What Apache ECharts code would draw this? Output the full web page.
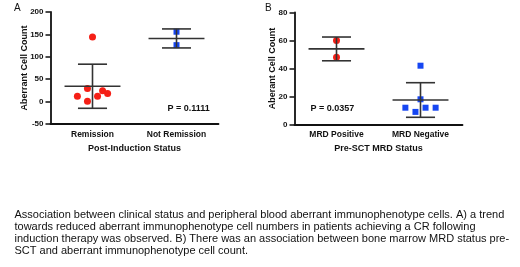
<!DOCTYPE html>
<html>
<head>
<meta charset="utf-8">
<script src="https://cdn.jsdelivr.net/npm/echarts@6/dist/echarts.min.js"></script>
<style>
  html, body { margin: 0; padding: 0; background: #fff; }
  #chart { width: 520px; height: 267px; }
</style>
</head>
<body>
<div id="chart"></div>
<script>
// Panel A
const catsA = ["Remission", "Not Remission"];
const remission = [144, 29, 24, 18, 12, 12, 1];
const remissionJitter = [0, -0.06, 0.12, 0.18, -0.18, 0.06, -0.06];
const notRemission = [156, 126];
const notRemissionJitter = [0, 0];
const ticksA = { min: -50, max: 200, interval: 50 };

// Panel B
const catsB = ["MRD Positive", "MRD Negative"];
const mrdPos = [60, 48];
const mrdPosJitter = [0, 0];
const mrdNeg = [42, 18, 12, 9, 12, 12];
const mrdNegJitter = [0, 0, -0.18, -0.06, 0.06, 0.18];
const ticksB = { min: 0, max: 80, interval: 20 };

const caption = [
  "Association between clinical status and peripheral blood aberrant immunophenotype cells. A) a trend",
  "towards reduced aberrant immunophenotype cell numbers in patients achieving a CR following",
  "induction therapy was observed. B) There was an association between bone marrow MRD status pre-",
  "SCT and aberrant immunophenotype cell count.",
];

const RED = "#f51f16";
const BLUE = "#1646f2";
const FONT = "Liberation Sans, Arial, sans-serif";

function meanSd(arr) {
  const m = arr.reduce((a, b) => a + b, 0) / arr.length;
  const v = arr.reduce((a, b) => a + (b - m) * (b - m), 0) / (arr.length - 1);
  return [m, Math.sqrt(v)];
}

function points(values, jitter, cat) {
  return values.map((v, i) => [cat + 0.5 + jitter[i], v]);
}

function errorBars(params, api) {
  const x = api.value(0);
  const m = api.value(1);
  const s = api.value(2);
  const unit = api.size([1, 0])[0];
  const c = api.coord([x, m]);
  const hi = api.coord([x, m + s]);
  const lo = api.coord([x, m - s]);
  const st = { stroke: "#333", lineWidth: 1.6 };
  const seg = (x1, y1, x2, y2) => ({ type: "line", shape: { x1, y1, x2, y2 }, style: st });
  const mw = unit * 0.333;
  const cw = unit * 0.173;
  return {
    type: "group",
    children: [
      seg(c[0] - mw, c[1], c[0] + mw, c[1]),
      seg(c[0] - cw, hi[1], c[0] + cw, hi[1]),
      seg(c[0] - cw, lo[1], c[0] + cw, lo[1]),
      seg(c[0], hi[1], c[0], lo[1]),
    ],
  };
}

function catAxis(grid, cats, name) {
  return {
    type: "category",
    gridIndex: grid,
    data: cats,
    name: name,
    nameLocation: "middle",
    nameGap: 20,
    nameTextStyle: { fontFamily: FONT, fontWeight: "bold", fontSize: 9, color: "#111" },
    axisLine: { onZero: false, lineStyle: { color: "#111", width: 1.8 } },
    axisTick: { alignWithLabel: true, length: 4, lineStyle: { color: "#111", width: 1.5 } },
    axisLabel: { margin: 6, fontFamily: FONT, fontWeight: "bold", fontSize: 8.5, color: "#111" },
  };
}

function valAxis(grid, ticks, name, gap) {
  return {
    type: "value",
    gridIndex: grid,
    ...ticks,
    name: name,
    nameLocation: "middle",
    nameGap: gap,
    nameMoveOverlap: false,
    nameTextStyle: { fontFamily: FONT, fontWeight: "bold", fontSize: 9, color: "#111" },
    axisLine: { show: true, onZero: false, lineStyle: { color: "#111", width: 1.8 } },
    axisTick: { show: true, length: 5, lineStyle: { color: "#111", width: 1.5 } },
    axisLabel: { margin: 7, fontFamily: FONT, fontWeight: "bold", fontSize: 8, color: "#111" },
    splitLine: { show: false },
  };
}

const chart = echarts.init(document.getElementById("chart"));

const option = {
  backgroundColor: "#fff",
  animation: false,
  grid: [
    { left: 50.5, top: 12, width: 168, height: 112 },
    { left: 294.5, top: 12.5, width: 168, height: 112 },
  ],
  xAxis: [
    catAxis(0, catsA, "Post-Induction Status"),
    { type: "value", gridIndex: 0, min: 0, max: 2, show: false },
    catAxis(1, catsB, "Pre-SCT MRD Status"),
    { type: "value", gridIndex: 1, min: 0, max: 2, show: false },
  ],
  yAxis: [
    valAxis(0, ticksA, "Aberrant Cell Count", 21),
    valAxis(1, ticksB, "Aberant Cell Count", 17),
  ],
  series: [
    { type: "scatter", xAxisIndex: 1, yAxisIndex: 0, symbol: "circle", symbolSize: 7,
      itemStyle: { color: RED, opacity: 1 }, data: points(remission, remissionJitter, 0) },
    { type: "scatter", xAxisIndex: 1, yAxisIndex: 0, symbol: "rect", symbolSize: 6,
      itemStyle: { color: BLUE, opacity: 1 }, data: points(notRemission, notRemissionJitter, 1) },
    { type: "custom", xAxisIndex: 1, yAxisIndex: 0, renderItem: errorBars, z: 5,
      data: [[0.5, ...meanSd(remission)], [1.5, ...meanSd(notRemission)]] },
    { type: "scatter", xAxisIndex: 3, yAxisIndex: 1, symbol: "circle", symbolSize: 7,
      itemStyle: { color: RED, opacity: 1 }, data: points(mrdPos, mrdPosJitter, 0) },
    { type: "scatter", xAxisIndex: 3, yAxisIndex: 1, symbol: "rect", symbolSize: 6,
      itemStyle: { color: BLUE, opacity: 1 }, data: points(mrdNeg, mrdNegJitter, 1) },
    { type: "custom", xAxisIndex: 3, yAxisIndex: 1, renderItem: errorBars, z: 5,
      data: [[0.5, ...meanSd(mrdPos)], [1.5, ...meanSd(mrdNeg)]] },
  ],
  graphic: [
    { type: "text", left: 14, top: 3, style: { text: "A", font: "10px " + FONT, fill: "#111" } },
    { type: "text", left: 265, top: 3, style: { text: "B", font: "10px " + FONT, fill: "#111" } },
    { type: "text", left: 167.5, top: 104, style: { text: "P = 0.1111", font: "bold 9px " + FONT, fill: "#111" } },
    { type: "text", left: 310.5, top: 104, style: { text: "P = 0.0357", font: "bold 9px " + FONT, fill: "#111" } },
    { type: "text", left: 14.5, top: 209.5, style: { text: caption.join("\n"), font: "11px " + FONT, lineHeight: 11.8, fill: "#111" } },
  ],
};

chart.setOption(option);
</script>
</body>
</html>
